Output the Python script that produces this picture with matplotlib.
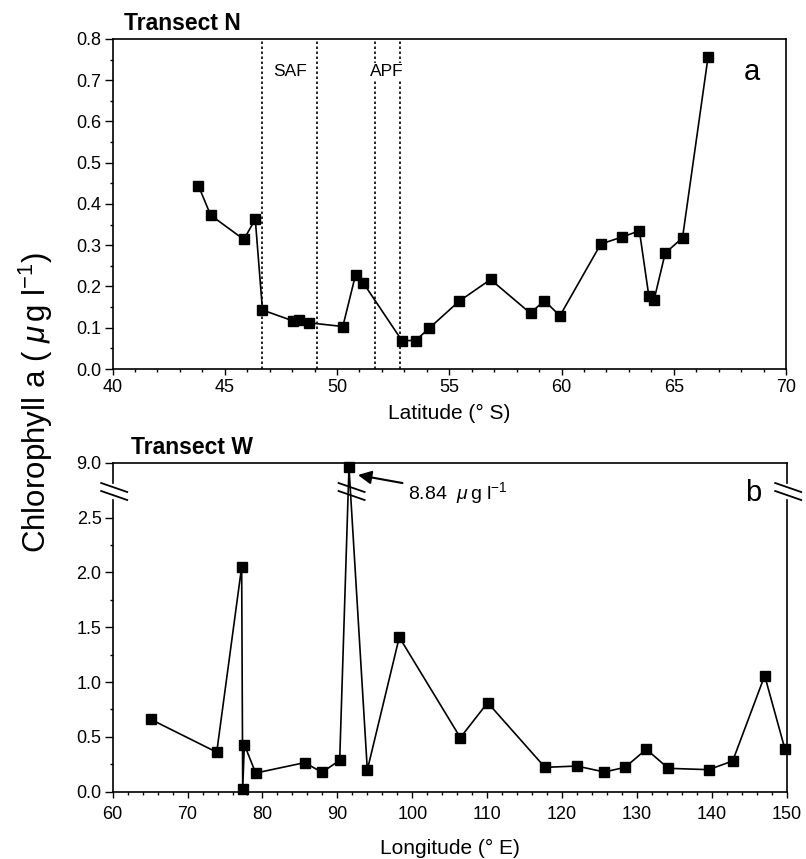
import matplotlib
matplotlib.use('Agg')
import numpy as np
import matplotlib.pyplot as plt
from matplotlib.lines import Line2D
from matplotlib.ticker import MultipleLocator, FixedLocator

plt.rcParams['font.family'] = ['Liberation Sans', 'DejaVu Sans']
plt.rcParams['mathtext.fontset'] = 'custom'
plt.rcParams['mathtext.rm'] = 'Liberation Sans'
plt.rcParams['mathtext.it'] = 'Liberation Sans:italic'

# transect N (latitude, deg S)
lat_n = [43.83, 44.37, 45.85, 46.36, 46.68, 48.02, 48.32, 48.76, 50.26, 50.83, 51.18,
         52.89, 53.50, 54.11, 55.43, 56.84, 58.62, 59.23, 59.93, 61.75, 62.70, 63.47,
         63.89, 64.12, 64.62, 65.39, 66.53]
chl_n = [0.444, 0.373, 0.314, 0.363, 0.143, 0.117, 0.120, 0.112, 0.103, 0.229, 0.208,
         0.069, 0.069, 0.099, 0.164, 0.217, 0.135, 0.166, 0.129, 0.303, 0.320, 0.335,
         0.177, 0.167, 0.281, 0.318, 0.757]
fronts = [46.64, 49.1, 51.7, 52.82]
front_names = ['SAF', 'APF']
front_label_x = [47.9, 52.2]

# transect W (longitude, deg E)
lon_w = [65.07, 73.89, 77.22, 77.36, 77.58, 79.09, 85.63, 87.95, 90.31, 91.55, 94.0,
         98.27, 106.42, 110.07, 117.72, 121.96, 125.65, 128.41, 131.26, 134.19, 139.58,
         142.79, 147.06, 149.77]
chl_w = [0.66, 0.36, 2.05, 0.025, 0.43, 0.17, 0.265, 0.177, 0.286, 8.84, 0.198,
         1.409, 0.493, 0.812, 0.222, 0.234, 0.18, 0.222, 0.387, 0.213, 0.201,
         0.28, 1.058, 0.387]

# broken y axis of panel b: 0..lo_top linear, gap, hi_bot..9 compressed
lo_top, hi_bot = 2.66, 8.25
gap = 0.155      # gap height in lower-axis units
k_hi = 0.2433    # scale of upper band


def fwd(y):
    y = np.asarray(y, dtype=float)
    mid = lo_top + (y - lo_top) * gap / (hi_bot - lo_top)
    hi = lo_top + gap + (y - hi_bot) * k_hi
    return np.where(y <= lo_top, y, np.where(y >= hi_bot, hi, mid))


def inv(v):
    v = np.asarray(v, dtype=float)
    mid = lo_top + (v - lo_top) * (hi_bot - lo_top) / gap
    hi = hi_bot + (v - lo_top - gap) / k_hi
    return np.where(v <= lo_top, v, np.where(v >= lo_top + gap, hi, mid))


W, H = 806, 859
fig = plt.figure(figsize=(W / 100, H / 100), dpi=100)


def box(l, t, r, b):
    return [l / W, 1 - b / H, (r - l) / W, (b - t) / H]


tick_fs = 13
ax_n = fig.add_axes(box(112.5, 39, 786, 369))
ax_w = fig.add_axes(box(112.7, 463, 786.7, 791.7))

# ---- panel a
ax_n.plot(lat_n, chl_n, '-s', color='black', lw=1.2, ms=6.5, clip_on=False)
for f in fronts:
    ax_n.axvline(f, color='black', lw=1.2, ls=(0, (1.5, 1.5)))
for name, x in zip(front_names, front_label_x):
    ax_n.text(x, 0.72, name, ha='center', va='center', fontsize=12.5,
              bbox=dict(facecolor='white', edgecolor='none', pad=1))
ax_n.text(68.5, 0.72, 'a', ha='center', va='center', fontsize=21)
ax_n.set_xlim(40, 70)
ax_n.set_ylim(0, 0.8)
ax_n.xaxis.set_major_locator(MultipleLocator(5))
ax_n.xaxis.set_minor_locator(MultipleLocator(1))
ax_n.yaxis.set_major_locator(MultipleLocator(0.1))
ax_n.yaxis.set_minor_locator(MultipleLocator(0.05))
ax_n.yaxis.set_major_formatter(lambda v, p: '%.1f' % v)
ax_n.set_xlabel('Latitude (° S)', fontsize=15, labelpad=6)
fig.text(124 / W, 1 - 23 / H, 'Transect N', fontsize=16.5, fontweight='bold', va='center')

# ---- panel b
ax_w.set_yscale('function', functions=(fwd, inv))
ax_w.plot(lon_w, chl_w, '-s', color='black', lw=1.2, ms=6.5, clip_on=False)
ax_w.set_xlim(60, 150)
ax_w.set_ylim(0, 9.0)
ax_w.xaxis.set_major_locator(MultipleLocator(10))
ax_w.xaxis.set_minor_locator(MultipleLocator(2))
ax_w.yaxis.set_major_locator(FixedLocator([0, 0.5, 1.0, 1.5, 2.0, 2.5, 9.0]))
ax_w.yaxis.set_minor_locator(FixedLocator([0.25, 0.75, 1.25, 1.75, 2.25]))
ax_w.yaxis.set_major_formatter(lambda v, p: '%.1f' % v)
ax_w.set_xlabel('Longitude (° E)', fontsize=15, labelpad=12)
fig.text(131 / W, 1 - 448 / H, 'Transect W', fontsize=16.5, fontweight='bold', va='center')

# left/right spines broken across the gap
for side, xa in (('left', 0), ('right', 1)):
    ax_w.spines[side].set_bounds(0, lo_top)
    ax_w.plot([xa, xa], [hi_bot, 9.0], color='black', lw=1.2, clip_on=False,
              transform=ax_w.get_yaxis_transform())

peak = chl_w.index(max(chl_w))
ax_w.annotate(r'8.84  $\mu\,$g l$^{-1}$', xy=(lon_w[peak] + 1.2, 8.55),
              xytext=(36, -13), textcoords='offset points',
              ha='left', va='center', fontsize=14, annotation_clip=False,
              arrowprops=dict(arrowstyle='-|>', color='black', lw=1.5,
                              mutation_scale=20, shrinkA=2, shrinkB=0))
ax_w.text(0.95, 0.909, 'b', ha='center', va='center', fontsize=21, transform=ax_w.transAxes)

for ax in (ax_n, ax_w):
    ax.tick_params(which='major', direction='out', length=6, width=1, labelsize=tick_fs, pad=2)
    ax.tick_params(which='minor', direction='out', length=2, width=1)
    ax.tick_params(top=False, right=False, which='both')
    for s in ax.spines.values():
        s.set_linewidth(1.2)
ax_n.tick_params(axis='x', which='major', length=4, pad=3)
ax_w.tick_params(axis='x', which='major', length=4, pad=6)

fig.text(36 / W, 1 - 402 / H, r'Chlorophyll a ( $\mu\,$g l$^{-1}$)', rotation=90,
         fontsize=22.5, ha='center', va='center')

# break marks
fig.canvas.draw()
cy = ax_w.transData.transform((60, lo_top + gap / 2 * (hi_bot - lo_top) / gap))[1]
for xd in (60, lon_w[peak] + 0.15, 150):
    cx = ax_w.transData.transform((xd, 0))[0] + 1.5
    for dy in (4, -4):
        fig.add_artist(Line2D([cx - 13, cx + 13], [cy + dy + 4.5, cy + dy - 4.5],
                              color='black', lw=1.3, transform=None))

fig.savefig('out.png', dpi=100)
